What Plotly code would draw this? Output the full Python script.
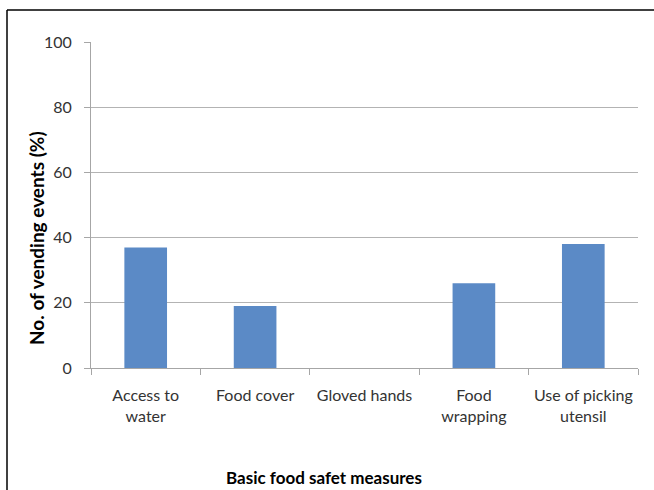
import plotly.graph_objects as go

categories = ["Access to<br>water", "Food cover", "Gloved hands", "Food<br>wrapping", "Use of picking<br>utensil"]
values = [37, 19, 0, 26, 38]
y_ticks = [0, 20, 40, 60, 80, 100]

FONT = "Lato, Open Sans, sans-serif"

fig = go.Figure(go.Bar(x=categories, y=values, marker=dict(color="#5B8AC6", line=dict(width=0)), width=0.39))

L, R, T, B = 91, 16, 42, 122
W, H = 654, 490
pw, ph = W - L - R, H - T - B

def px2x(p):
    return (p - L) / pw

def py2y(p):
    return (H - B - p) / ph

fig.update_layout(
    width=W, height=H,
    margin=dict(l=L, r=R, t=T, b=B, autoexpand=False),
    paper_bgcolor="white", plot_bgcolor="white",
    showlegend=False,
    font=dict(family=FONT, size=16, color="#333333"),
    xaxis=dict(
        showline=True, linecolor="#a6a6a6", linewidth=1,
        ticks="outside", tickson="boundaries", ticklen=6, tickcolor="#a6a6a6",
        tickfont=dict(size=16, family=FONT, color="#333333"),
        ticklabelstandoff=13,
        showgrid=False, automargin=False,
    ),
    yaxis=dict(
        range=[0, 100], tickvals=y_ticks,
        showline=True, linecolor="#a6a6a6", linewidth=1,
        ticks="outside", ticklen=6, tickcolor="#a6a6a6",
        ticklabelstandoff=9,
        showgrid=True, gridcolor="#b3b3b3", gridwidth=1,
        zeroline=False, automargin=False,
        tickfont=dict(size=16, family=FONT, color="#333333"),
    ),
    annotations=[
        dict(text="<b>Basic food safet measures</b>", xref="paper", yref="paper",
             x=px2x(324), y=py2y(477), xanchor="center", yanchor="middle",
             showarrow=False, font=dict(size=17, family=FONT, color="#000000")),
        dict(text="<b>No. of vending events (%)</b>", xref="paper", yref="paper",
             x=px2x(36), y=py2y(238), xanchor="center", yanchor="middle", textangle=-90,
             showarrow=False, font=dict(size=19, family=FONT, color="#000000")),
    ],
    shapes=[
        dict(type="line", xref="paper", yref="paper", x0=px2x(7), x1=px2x(7), y0=py2y(495), y1=py2y(10), line=dict(color="black", width=1.5)),
        dict(type="line", xref="paper", yref="paper", x0=px2x(7), x1=px2x(660), y0=py2y(10), y1=py2y(10), line=dict(color="black", width=1.5)),
    ],
)

fig.write_html("out.html")
